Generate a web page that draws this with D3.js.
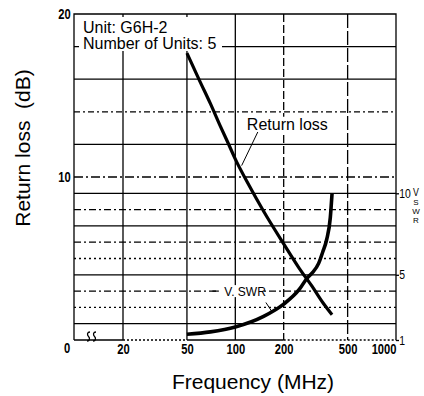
<!DOCTYPE html>
<html>
<head>
<meta charset="utf-8">
<title>G6H-2 Return loss / V.SWR</title>
<script src="https://cdn.jsdelivr.net/npm/d3@7"></script>
<style>
  body { margin: 0; background: #fff; }
  svg { display: block; font-family: Arial, "Liberation Sans", Helvetica, sans-serif; }
  .num { font-family: "Liberation Sans", Arial, sans-serif; font-weight: bold; font-size: 14px; }
  .grid { stroke: #000; stroke-width: 1.3; fill: none; }
</style>
</head>
<body>
<svg width="424" height="396"></svg>
<script>
// frequency axis (MHz), log scale with a break between 0 and 20
var freqTicks = [20, 50, 100, 200, 500, 1000];
var freqLabels = ['20', '50', '100', '200', '500', '1000'];

// left axis, return loss (dB)
var dbTicks = [10, 20];
var dbGrid = [1, 2, 3, 4, 5, 6, 7, 8, 9, 10, 12, 14, 16, 18];

// right axis, V.SWR
var swrTicks = [1, 5, 10];

// return loss curve
var rlFreq  = [50, 60, 70, 80, 90, 100, 120, 150, 200, 250, 300, 350, 400];
var rlValue = [17.6, 15.9, 14.5, 13.2, 12.1, 11.1, 9.6, 7.9, 5.9, 4.4, 3.3, 2.3, 1.55];

// V.SWR curve
var swrFreq  = [50, 70, 100, 150, 200, 250, 280, 300, 330, 350, 370, 390, 400];
var swrValue = [1.35, 1.5, 1.8, 2.45, 3.2, 4.1, 4.8, 5.1, 5.7, 6.4, 7.15, 8.5, 10];

// line look of the scanned grid (by dB value)
var dotted = { 2: '2,3', 5: '2,3', 3: '7,3,2,3', 6: '7,3,2,3', 8: '7,3,2,3', 10: '9,3,2,3', 14: '6,3,2,3' };

var svg = d3.select('svg');
var pL = 74, pR = 396, pT = 14, pB = 340, breakEnd = 123;

var x = d3.scaleLog().domain([20, 1000]).range([breakEnd, pR]);
var y = d3.scaleLinear().domain([0, 20]).range([pB, pT]);
var ySwr = d3.scaleLinear().domain([1, 10]).range([y(0), y(9)]);

svg.append('rect').attr('width', 424).attr('height', 396).attr('fill', '#fff');

var g = svg.append('g');

// horizontal grid
g.selectAll('line.h')
  .data(dbGrid)
  .enter()
  .append('line')
  .attr('class', 'grid h')
  .attr('x1', pL).attr('x2', pR)
  .attr('y1', function(d) { return y(d); })
  .attr('y2', function(d) { return y(d); })
  .attr('stroke-dasharray', function(d) { return dotted[d] || null; });

// vertical grid
g.selectAll('line.v')
  .data(freqTicks.slice(0, -1))
  .enter()
  .append('line')
  .attr('class', 'grid v')
  .attr('x1', function(d) { return x(d); })
  .attr('x2', function(d) { return x(d); })
  .attr('y1', pT).attr('y2', pB)
  .attr('stroke-dasharray', function(d) { return d == 200 ? '8,3' : d == 500 ? '14,3' : null; });

// frame: left, top, right solid; bottom partly dotted like the scan
g.append('path').attr('class', 'grid').attr('stroke-width', 1.8)
  .attr('d', 'M' + pL + ',' + pB + 'V' + pT + 'H' + pR + 'V' + pB);
g.append('line').attr('class', 'grid').attr('stroke-width', 1.8)
  .attr('x1', pL).attr('x2', breakEnd).attr('y1', pB).attr('y2', pB);
g.append('line').attr('class', 'grid').attr('stroke-width', 1.8).attr('stroke-dasharray', '2,2')
  .attr('x1', x(20)).attr('x2', x(50)).attr('y1', pB).attr('y2', pB);
g.append('line').attr('class', 'grid').attr('stroke-width', 1.8)
  .attr('x1', x(50)).attr('x2', x(200)).attr('y1', pB).attr('y2', pB);
g.append('line').attr('class', 'grid').attr('stroke-width', 1.8).attr('stroke-dasharray', '2,2')
  .attr('x1', x(200)).attr('x2', pR).attr('y1', pB).attr('y2', pB);

// axis break mark
[87, 93].forEach(function(bx) {
  g.append('path').attr('class', 'grid').attr('stroke-width', 1.7)
    .attr('d', 'M' + bx + ',' + (pB + 1) + 'c3,0 3,-3 1.5,-4.5 s-1.5,-4.5 1.5,-4.5');
});

// bottom axis labels (condensed look)
var xAxis = d3.axisBottom(x)
  .tickValues(freqTicks)
  .tickFormat(function(d, i) { return freqLabels[i]; })
  .tickSize(0)
  .tickPadding(4);
var xa = g.append('g').attr('transform', 'translate(0,' + pB + ')').call(xAxis);
xa.attr('font-family', null).attr('font-size', null);
xa.select('.domain').remove();
xa.selectAll('text').attr('class', 'num').attr('fill', '#000').attr('transform', 'scale(0.8,1)');
xa.selectAll('.tick').filter(function(d) { return d == 1000; })
  .select('text').attr('text-anchor', 'end');

g.append('text').attr('class', 'num')
  .attr('transform', 'translate(' + (pL - 7) + ',' + (pB + 13) + ') scale(0.8,1)')
  .attr('text-anchor', 'middle').text('0');

// left axis labels
var yAxis = d3.axisLeft(y).tickValues(dbTicks).tickSize(0).tickPadding(4);
var ya = g.append('g').attr('transform', 'translate(' + pL + ',0)').call(yAxis);
ya.attr('font-family', null).attr('font-size', null);
ya.select('.domain').remove();
ya.selectAll('text').attr('class', 'num').attr('fill', '#000').attr('transform', 'scale(0.8,1)');

// right axis (V.SWR)
var rAxis = d3.axisRight(ySwr).tickValues(swrTicks).tickSize(3).tickPadding(1);
var ra = g.append('g').attr('transform', 'translate(' + pR + ',0)').call(rAxis);
ra.attr('font-family', null).attr('font-size', null);
ra.select('.domain').remove();
ra.selectAll('line').attr('stroke', '#000').attr('stroke-width', 1.3);
ra.selectAll('text').attr('class', 'num').attr('fill', '#000')
  .style('font-weight', 'normal').style('font-size', '13px').attr('transform', 'scale(0.8,1)');

g.append('text').attr('class', 'num')
  .style('font-weight', 'normal').style('font-size', '11px')
  .attr('transform', 'translate(' + (pR + 17) + ',' + (ySwr(10) + 3) + ') scale(0.8,1)')
  .text('V');
g.append('text').attr('class', 'num')
  .style('font-weight', 'normal').style('font-size', '8px')
  .style('writing-mode', 'vertical-rl').style('text-orientation', 'upright')
  .attr('x', pR + 20).attr('y', ySwr(10) + 5)
  .text('SWR');

// unit box
g.append('rect').attr('x', 79).attr('y', 17).attr('width', 143).attr('height', 34).attr('fill', '#fff');
g.append('text').attr('x', 83).attr('y', 33).style('font-size', '16px').text('Unit: G6H-2');
g.append('text').attr('x', 83).attr('y', 49).style('font-size', '16px').text('Number of Units: 5');

// curves
var line = d3.line()
  .x(function(d) { return x(d[0]); })
  .y(function(d) { return d[1]; })
  .curve(d3.curveMonotoneX);

var rlData = rlFreq.map(function(f, i) { return [f, y(rlValue[i])]; });
var swrData = swrFreq.map(function(f, i) { return [f, ySwr(swrValue[i])]; });

g.append('path').attr('d', line(rlData))
  .attr('fill', 'none').attr('stroke', '#000').attr('stroke-width', 3.2);
g.append('path').attr('d', line(swrData))
  .attr('fill', 'none').attr('stroke', '#000').attr('stroke-width', 3.6);

// labels on the curves
g.append('rect').attr('x', x(118) - 1).attr('y', y(12.9) - 13).attr('width', 84).attr('height', 16).attr('fill', '#fff');
g.append('text').attr('x', x(118)).attr('y', y(12.9)).style('font-size', '16px').text('Return loss');
g.append('line').attr('stroke', '#000').attr('stroke-width', 1)
  .attr('x1', x(138)).attr('y1', y(12.76))
  .attr('x2', x(109.5)).attr('y2', y(10.7));

g.append('rect').attr('x', x(76)).attr('y', y(3) - 6).attr('width', 46).attr('height', 12).attr('fill', '#fff');
g.append('line').attr('stroke', '#000').attr('stroke-width', 1.2)
  .attr('x1', x(72)).attr('x2', x(79)).attr('y1', y(3)).attr('y2', y(3));
g.append('text').attr('x', x(115)).attr('y', y(3) + 4.5)
  .attr('text-anchor', 'middle').style('font-size', '12px').text('V. SWR');
g.append('line').attr('stroke', '#000').attr('stroke-width', 1)
  .attr('x1', x(155)).attr('y1', y(2.3))
  .attr('x2', x(170)).attr('y2', y(1.7));

// axis titles
g.append('text')
  .attr('x', 253).attr('y', 389)
  .attr('text-anchor', 'middle').style('font-size', '21px')
  .text('Frequency (MHz)');
g.append('text')
  .attr('transform', 'translate(30,' + 148 + ') rotate(-90)')
  .attr('text-anchor', 'middle').style('font-size', '21px').style('white-space', 'pre')
  .text('Return loss  (dB)');
</script>
</body>
</html>
